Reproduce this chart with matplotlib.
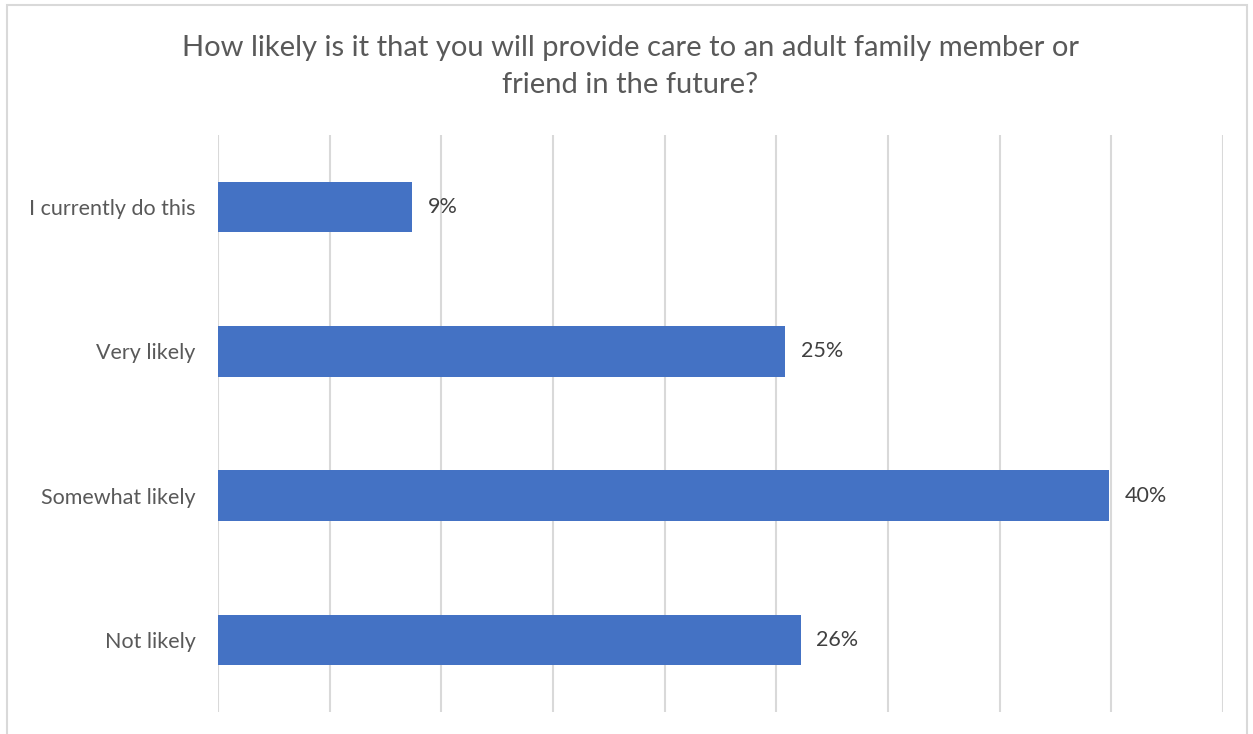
import matplotlib.pyplot as plt
import matplotlib.patches as patches

# survey answers, top to bottom
categories = ["I currently do this", "Very likely", "Somewhat likely", "Not likely"]
values = [8.7, 25.4, 39.9, 26.1]
value_labels = ["9%", "25%", "40%", "26%"]
title = "How likely is it that you will provide care to an adult family member or\nfriend in the future?"

plt.rcParams['font.family'] = ['Lato', 'DejaVu Sans']

fig = plt.figure(figsize=(12.53, 7.34), dpi=100)
ax = fig.add_axes([0.174, 0.030, 0.802, 0.786])

ypos = list(range(len(categories)))
ax.barh(ypos, values, height=0.35, color="#4472C4", zorder=3)

for y, v, lab in zip(ypos, values, value_labels):
    ax.text(v + 0.7, y, lab, va="center", ha="left", fontsize=15.5, color="#404040")

ax.set_xlim(0, 45)
ax.set_ylim(3.5, -0.5)
ax.set_xticks(range(0, 46, 5))
ax.set_xticklabels([])
ax.set_yticks(ypos)
ax.set_yticklabels(categories, fontsize=15.5, color="#595959")
ax.tick_params(length=0, pad=16)
ax.xaxis.grid(True, color="#d9d9d9", linewidth=1.5, zorder=0)
for s in ax.spines.values():
    s.set_visible(False)

fig.text(0.503, 0.909, title, ha="center", va="center", fontsize=21,
         color="#595959", linespacing=1.52)

# outer chart border, cut off at the bottom like the original
border = patches.Rectangle((7 / 1253, -0.05), 1240 / 1253, 1.05 - 5 / 734,
                           transform=fig.transFigure, fill=False,
                           edgecolor="#d9d9d9", linewidth=1.5, clip_on=False)
fig.patches.append(border)

fig.savefig("out.png", dpi=100)
